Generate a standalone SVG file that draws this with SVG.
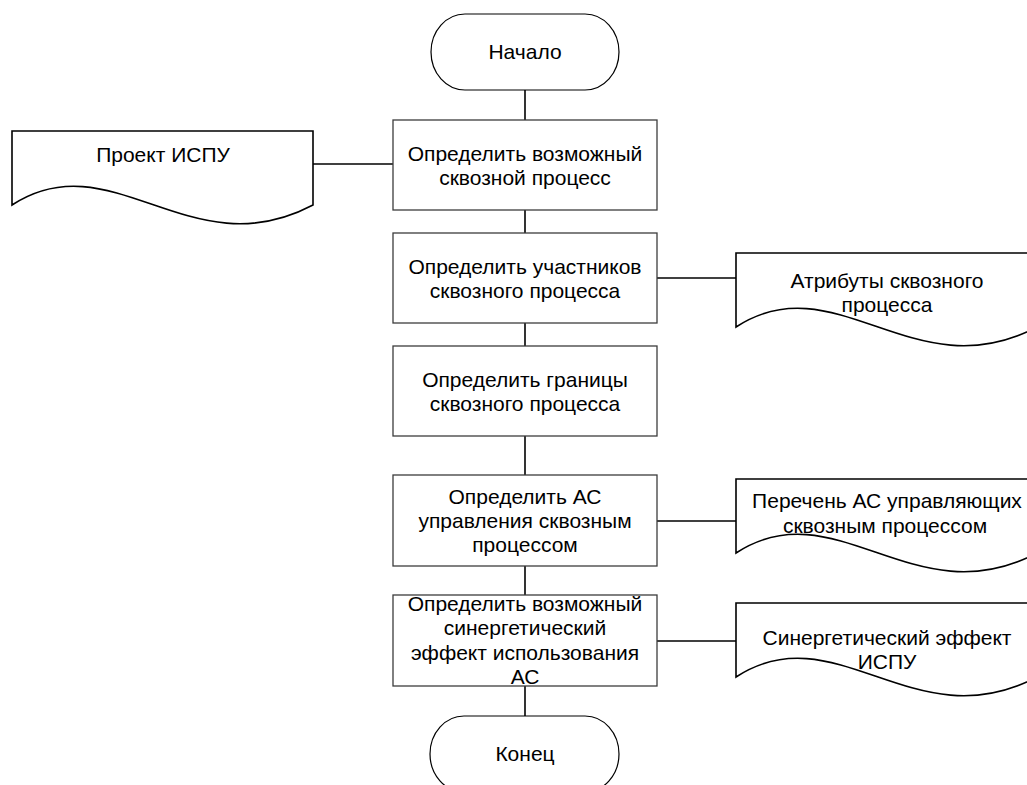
<svg xmlns="http://www.w3.org/2000/svg" width="1027" height="785" viewBox="0 0 1027 785">
  <style>
    .term { fill: #ffffff; stroke: #000000; stroke-width: 1.2; }
    .proc { fill: #ffffff; stroke: #3c3c3c; stroke-width: 1.3; }
    .doc { fill: #ffffff; stroke: #000000; stroke-width: 1.6; }
    .link { fill: none; stroke: #000000; stroke-width: 1.6; }
    text { font-family: "Liberation Sans", Arial, sans-serif; font-size: 21px; fill: #000000; text-anchor: middle; }
  </style>
  <defs>
    <!-- document symbol: flat top, wavy bottom; origin at top-left corner -->
    <path id="docShape" d="M0,0 H301 V74 C178,139 100,9 0,74 Z"/>
  </defs>
  <rect width="1027" height="785" fill="#ffffff"/>

  <!-- connectors -->
  <g id="connectors">
    <line class="link" x1="525" y1="90" x2="525" y2="120"/>
    <line class="link" x1="525" y1="210" x2="525" y2="233"/>
    <line class="link" x1="525" y1="323" x2="525" y2="346"/>
    <line class="link" x1="525" y1="436" x2="525" y2="475"/>
    <line class="link" x1="525" y1="566" x2="525" y2="595"/>
    <line class="link" x1="525" y1="686" x2="525" y2="716"/>
    <line class="link" x1="313" y1="164" x2="393" y2="164"/>
    <line class="link" x1="657" y1="278" x2="736" y2="278"/>
    <line class="link" x1="657" y1="521" x2="736" y2="521"/>
    <line class="link" x1="657" y1="641" x2="736" y2="641"/>
  </g>

  <g id="start">
    <rect class="term" x="431" y="14" width="188" height="76" rx="34" ry="38"/>
    <text x="525" y="59">Начало</text>
  </g>

  <g id="step1">
    <rect class="proc" x="393" y="120" width="264" height="90"/>
    <text x="525" y="161">Определить возможный</text>
    <text x="525" y="185">сквозной процесс</text>
  </g>

  <g id="step2">
    <rect class="proc" x="393" y="233" width="264" height="90"/>
    <text x="525" y="274">Определить участников</text>
    <text x="525" y="298">сквозного процесса</text>
  </g>

  <g id="step3">
    <rect class="proc" x="393" y="346" width="264" height="90"/>
    <text x="525" y="387">Определить границы</text>
    <text x="525" y="411">сквозного процесса</text>
  </g>

  <g id="step4">
    <rect class="proc" x="393" y="475" width="264" height="91"/>
    <text x="525" y="504">Определить АС</text>
    <text x="525" y="528">управления сквозным</text>
    <text x="525" y="552">процессом</text>
  </g>

  <g id="step5">
    <rect class="proc" x="393" y="595" width="264" height="91"/>
    <text x="525" y="611">Определить возможный</text>
    <text x="525" y="635">синергетический</text>
    <text x="525" y="660">эффект использования</text>
    <text x="525" y="684">АС</text>
  </g>

  <g id="end">
    <rect class="term" x="430" y="716" width="189" height="76" rx="34" ry="38"/>
    <text x="525" y="761">Конец</text>
  </g>

  <g id="docProject">
    <use href="#docShape" class="doc" transform="translate(12,131)"/>
    <text x="163" y="162">Проект ИСПУ</text>
  </g>

  <g id="docAttributes">
    <use href="#docShape" class="doc" transform="translate(736,253)"/>
    <text x="887" y="288">Атрибуты сквозного</text>
    <text x="887" y="312">процесса</text>
  </g>

  <g id="docSystems">
    <use href="#docShape" class="doc" transform="translate(736,479)"/>
    <text x="887" y="508">Перечень АС управляющих</text>
    <text x="885" y="533">сквозным процессом</text>
  </g>

  <g id="docEffect">
    <use href="#docShape" class="doc" transform="translate(736,603)"/>
    <text x="887" y="645">Синергетический эффект</text>
    <text x="887" y="669">ИСПУ</text>
  </g>
</svg>
